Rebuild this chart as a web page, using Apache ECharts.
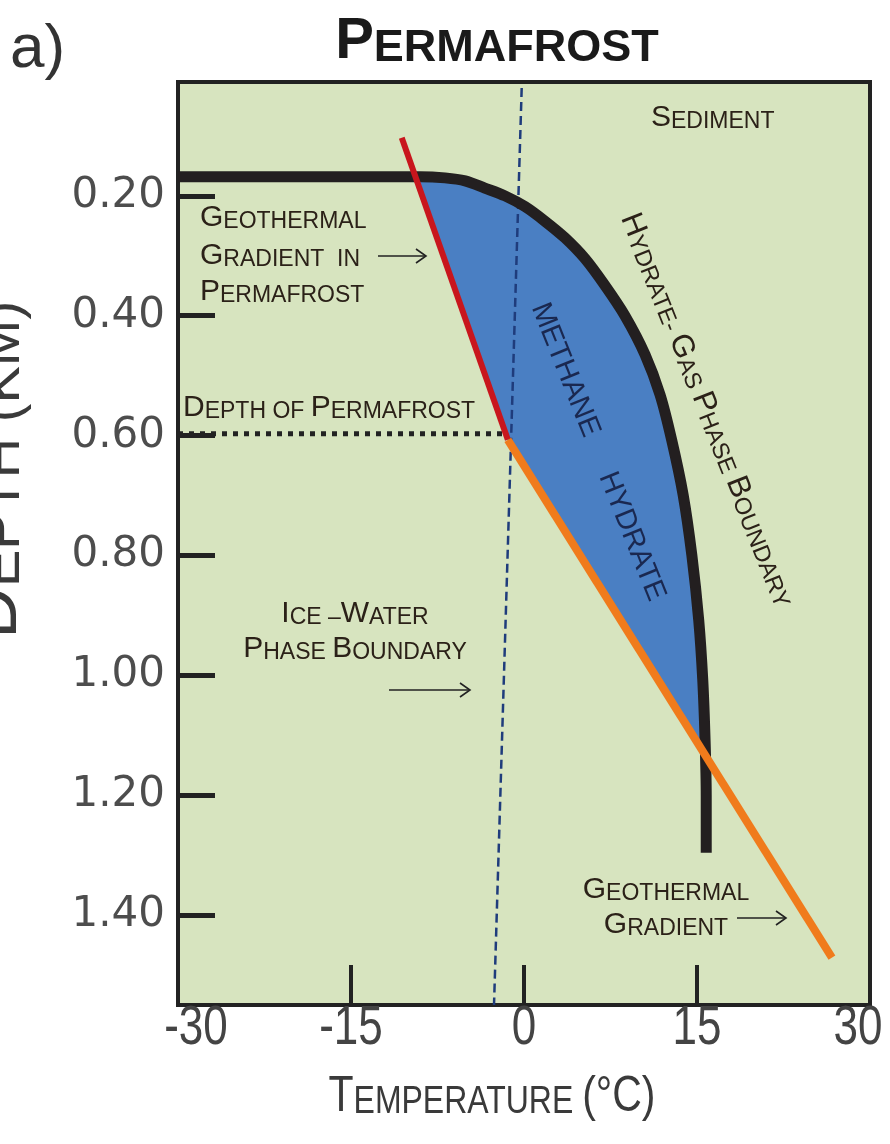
<!DOCTYPE html>
<html><head><meta charset="utf-8">
<script src="https://cdn.jsdelivr.net/npm/echarts@6/dist/echarts.min.js"></script>
<style>html,body{margin:0;padding:0;background:#fff}#c{width:890px;height:1144px}</style>
</head><body><div id="c"></div>
<script>
// ---- data (temperature °C, depth km) ----
const xLabelValues = [-30, -15, 0, 15, 30];
const xTickValues = [-15, 0, 15];
const yTickValues = [0.2, 0.4, 0.6, 0.8, 1.0, 1.2, 1.4];
const X_MIN = -30, X_MAX = 30, Y_MIN = 0.01, Y_MAX = 1.55;

const hydrateGasBoundary = [[-30,0.168],[-9.0,0.168],[-6.85,0.170],[-5.1,0.175],[-3.4,0.187],[-1.65,0.200],[0.1,0.218],[1.8,0.242],[3.55,0.270],[5.3,0.305],[7.0,0.349],[8.75,0.400],[10.5,0.465],[11.8,0.532],[12.8,0.607],[13.8,0.699],[14.55,0.799],[15.15,0.908],[15.5,1.008],[15.7,1.108],[15.8,1.20],[15.8,1.296]];
const permafrostGradient = [[-10.6,0.103],[-1.4,0.607]];
const geothermalGradient = [[-1.4,0.607],[26.7,1.471]];
const iceWaterBoundary = [[-0.2,0.02],[-2.6,1.55]];
const permafrostDepth = [[-30,0.597],[-1.7,0.597]];
const hydrateZone = [[-9.4,0.168],[-6.85,0.170],[-5.1,0.175],[-3.4,0.187],[-1.65,0.200],[0.1,0.218],[1.8,0.242],[3.55,0.270],[5.3,0.305],[7.0,0.349],[8.75,0.400],[10.5,0.465],[11.8,0.532],[12.8,0.607],[13.8,0.699],[14.55,0.799],[15.15,0.908],[15.5,1.008],[15.7,1.108],[15.75,1.142],[-1.4,0.607]];

const SANS = 'Liberation Sans';
const TXT = '#2b2118';

function scRich(big, small, color, family, weight) {
  return {
    b: {fontSize: big, fontFamily: family || SANS, fill: color || TXT, fontWeight: weight || 'normal', verticalAlign: 'bottom'},
    s: {fontSize: small, fontFamily: family || SANS, fill: color || TXT, fontWeight: weight || 'normal', verticalAlign: 'bottom'}
  };
}
function label(text, x, y, align, opts) {
  opts = opts || {};
  return {
    type: 'text', x: x, y: y, rotation: opts.rotation || 0, scaleX: opts.scaleX || 1, z: 50,
    style: {text: text, rich: scRich(opts.big || 30, opts.small || 23, opts.color, opts.family, opts.weight),
      align: align || 'left', verticalAlign: 'middle'}
  };
}
function arrow(x1, y, x2) {
  return {type: 'group', z: 50, children: [
    {type: 'line', shape: {x1: x1, y1: y, x2: x2, y2: y}, style: {stroke: '#222', lineWidth: 1.6}},
    {type: 'polyline', shape: {points: [[x2 - 10, y - 7], [x2, y], [x2 - 10, y + 7]]}, style: {stroke: '#222', lineWidth: 1.6, fill: null}}
  ]};
}

const chart = echarts.init(document.getElementById('c'), null, {renderer: 'canvas'});
const option = {
  animation: false,
  backgroundColor: '#ffffff',
  grid: {left: 178, top: 82, width: 692, height: 923, show: true, backgroundColor: '#d7e4bf', borderColor: '#222', borderWidth: 4, z: 0},
  xAxis: {
    type: 'value', min: X_MIN, max: X_MAX, position: 'bottom',
    axisLine: {show: false, onZero: false}, splitLine: {show: false},
    axisTick: {show: true, inside: true, length: 40, customValues: xTickValues, lineStyle: {color: '#222', width: 4}},
    axisLabel: {show: false}
  },
  yAxis: {
    type: 'value', inverse: true, min: Y_MIN, max: Y_MAX, position: 'left',
    axisLine: {show: false, onZero: false}, splitLine: {show: false},
    axisTick: {show: true, inside: true, length: 37, customValues: yTickValues, lineStyle: {color: '#222', width: 5}},
    axisLabel: {customValues: yTickValues, fontFamily: 'DejaVu Sans', fontSize: 42, color: '#4d4d4d', margin: 13,
      formatter: function (v) { return v.toFixed(2); }}
  },
  series: [
    {type: 'custom', z: 1, silent: true, data: hydrateZone,
      renderItem: function (params, api) {
        if (params.dataIndex !== 0) return;
        const pts = hydrateZone.map(function (p) { return api.coord(p); });
        return {type: 'polygon', shape: {points: pts}, style: {fill: '#4a7fc3'}};
      }},
    {type: 'line', z: 2, data: iceWaterBoundary, showSymbol: false, lineStyle: {color: '#1f3c7c', width: 2.5, type: [9, 5]}},
    {type: 'line', z: 3, data: permafrostDepth, showSymbol: false, lineStyle: {color: '#222', width: 5, type: [5, 6], cap: 'butt'}},
    {type: 'line', z: 4, data: hydrateGasBoundary, showSymbol: false, smooth: 0.3, lineStyle: {color: '#231f20', width: 11}},
    {type: 'line', z: 5, data: permafrostGradient, showSymbol: false, lineStyle: {color: '#c8161d', width: 6}},
    {type: 'line', z: 5, data: geothermalGradient, showSymbol: false, lineStyle: {color: '#f07b1c', width: 8}},
    // x tick labels (condensed glyphs), placed through the x scale
    {type: 'custom', z: 10, silent: true, clip: false, data: xLabelValues.map(function (v) { return [v]; }),
      encode: {x: 0},
      renderItem: function (params, api) {
        const v = api.value(0);
        const p = api.coord([v, Y_MAX]);
        const dx = v === X_MIN ? 18 : (v === X_MAX ? -12 : 0);
        return {type: 'text', x: p[0] + dx, y: p[1] + 24, scaleX: 0.8,
          style: {text: String(v), fontFamily: SANS, fontSize: 55, fill: '#444', align: 'center', verticalAlign: 'middle'}};
      }}
  ],
  graphic: [
    {type: 'text', x: 10, y: 50, z: 50, style: {text: 'a)', fontFamily: SANS, fontSize: 62, fill: '#333', align: 'left', verticalAlign: 'middle'}},
    label('{b|P}{s|ERMAFROST}', 497, 42, 'center', {big: 58, small: 45, weight: 'bold', color: '#1a1a1a'}),
    label('{b|T}{s|EMPERATURE }{b|(°C)}', 492, 1097, 'center', {big: 50, small: 39, color: '#3a3a3a', scaleX: 0.82}),
    label('{b|D}{s|EPTH (KM)}', -4, 470, 'center', {big: 72, small: 56, color: '#3a3a3a', rotation: Math.PI / 2}),
    label('{b|S}{s|EDIMENT}', 651, 118, 'left'),
    label('{b|G}{s|EOTHERMAL}', 200, 218, 'left'),
    label('{b|G}{s|RADIENT  IN}', 200, 256, 'left'),
    label('{b|P}{s|ERMAFROST}', 200, 292, 'left'),
    arrow(378, 256, 426),
    label('{b|D}{s|EPTH OF }{b|P}{s|ERMAFROST}', 183, 408, 'left'),
    label('{b|I}{s|CE –}{b|W}{s|ATER}', 355, 614, 'center'),
    label('{b|P}{s|HASE }{b|B}{s|OUNDARY}', 355, 649, 'center'),
    arrow(389, 690, 470),
    label('{b|G}{s|EOTHERMAL}', 666, 890, 'center'),
    label('{b|G}{s|RADIENT}', 666, 925, 'center'),
    arrow(737, 918, 786),
    {type: 'text', x: 598, y: 452, rotation: -1.19, z: 50,
      style: {text: 'METHANE     HYDRATE', fontFamily: SANS, fontSize: 29, fill: '#1a2850', align: 'center', verticalAlign: 'middle'}},
    label('{b|H}{s|YDRATE- }{b|G}{s|AS }{b|P}{s|HASE }{b|B}{s|OUNDARY}', 707, 410, 'center', {big: 31, small: 23.5, rotation: -1.19})
  ]
};
chart.setOption(option);
</script>
</body></html>
